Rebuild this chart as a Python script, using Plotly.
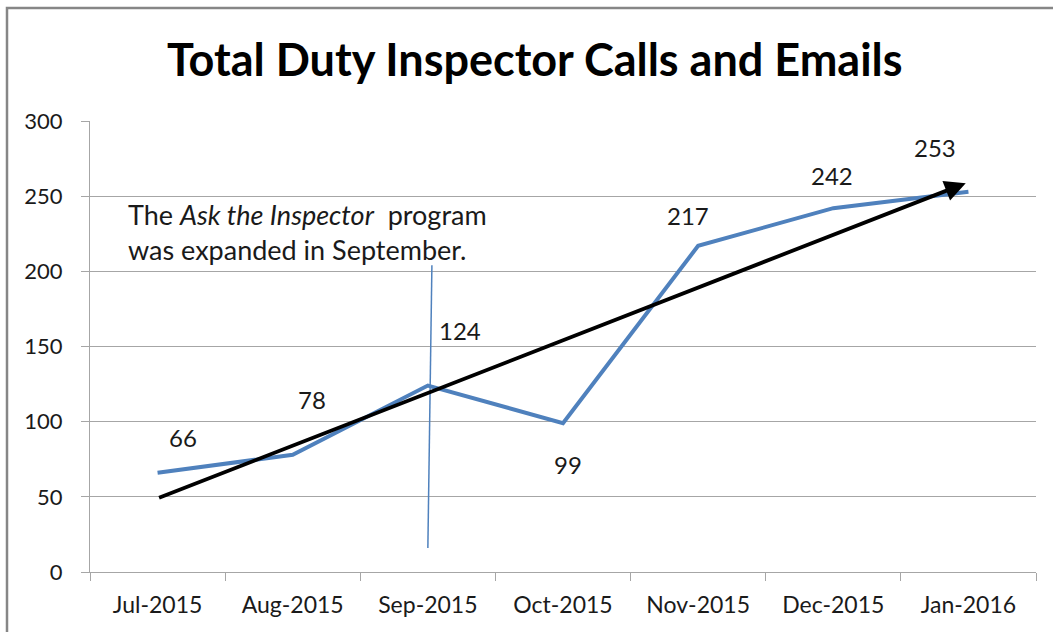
import numpy as np
import plotly.graph_objects as go

months = ["Jul-2015", "Aug-2015", "Sep-2015", "Oct-2015", "Nov-2015", "Dec-2015", "Jan-2016"]
totals = [66, 78, 124, 99, 217, 242, 253]
y_ticks = [0, 50, 100, 150, 200, 250, 300]
# label offsets (pixels) relative to each point
label_dx = [25, 19, 32, 5, -10, -1, -33]
label_dy = [35, 55, 55, -41, 30, 33, 44]

title = "Total Duty Inspector Calls and Emails"
note = "The <i>Ask the Inspector</i>  program<br>was expanded in September."

FONT = "Lato"
BLUE = "#4F81BD"
GRID = "#A6A6A6"

W, H = 1053, 632
L, R, T, B = 90, 17, 121, 60
pw, ph = W - L - R, H - T - B

xi = np.arange(len(months))
slope, intercept = np.polyfit(xi, totals, 1)

fig = go.Figure()
fig.add_trace(go.Scatter(
    x=months, y=totals, mode="lines",
    line=dict(color=BLUE, width=4),
    hoverinfo="skip", showlegend=False,
))

# value labels
for m, v, dx, dy in zip(months, totals, label_dx, label_dy):
    fig.add_annotation(x=m, y=v, text=str(v), showarrow=False,
                       xshift=dx, yshift=dy,
                       font=dict(family=FONT, size=24, color="#1a1a1a"))

# trendline arrow (linear fit)
fig.add_annotation(
    x=6 - 0.02, y=intercept + slope * (6 - 0.02),
    ax=0, ay=intercept,
    xref="x", yref="y", axref="x", ayref="y",
    showarrow=True, arrowhead=2, arrowsize=1.1, arrowwidth=3.8,
    arrowcolor="black", text="", standoff=0,
)

# vertical marker line for September
fig.add_shape(type="line", xref="x", yref="y",
              x0=2.0, y0=16, x1=2.03, y1=204,
              line=dict(color=BLUE, width=1.5))

# note text
fig.add_annotation(x=(126 - L) / pw, y=(H - B - 196) / ph, xref="paper", yref="paper",
                   xanchor="left", yanchor="top", align="left", showarrow=False,
                   text=note, font=dict(family=FONT, size=27, color="#1a1a1a"))

# title
fig.add_annotation(x=(535 - L) / pw, y=(H - B - 59) / ph, xref="paper", yref="paper",
                   xanchor="center", yanchor="middle", showarrow=False,
                   text="<b>" + title + "</b>",
                   font=dict(family=FONT, size=45, color="black"))

# outer border
fig.add_shape(type="rect", xref="paper", yref="paper",
              x0=(7 - L) / pw, x1=(W + 10 - L) / pw,
              y0=(H - B - (H + 10)) / ph, y1=(H - B - 8) / ph,
              line=dict(color="#868686", width=2.5), layer="above")

fig.update_layout(
    width=W, height=H,
    margin=dict(l=L, r=R, t=T, b=B),
    plot_bgcolor="white", paper_bgcolor="white",
    font=dict(family=FONT, size=22, color="#1a1a1a"),
    showlegend=False,
)
fig.update_xaxes(
    type="category", tickson="boundaries", ticks="outside", ticklen=8,
    tickcolor=GRID, showline=True, linecolor=GRID, linewidth=1.3,
    showgrid=False, tickfont=dict(family=FONT, size=23), range=[-0.5, 6.5],
    ticklabelstandoff=12,
)
fig.update_yaxes(
    range=[0, 300], tickvals=y_ticks, ticks="outside", ticklen=8,
    tickcolor=GRID, showline=True, linecolor=GRID, linewidth=1.3,
    showgrid=True, gridcolor=GRID, gridwidth=1.3, zeroline=False,
    tickfont=dict(family=FONT, size=22), ticklabelstandoff=14,
)

fig.write_html("out.html", config={"displayModeBar": False},
               post_script="document.body.style.margin='0';document.body.style.overflow='hidden';")
